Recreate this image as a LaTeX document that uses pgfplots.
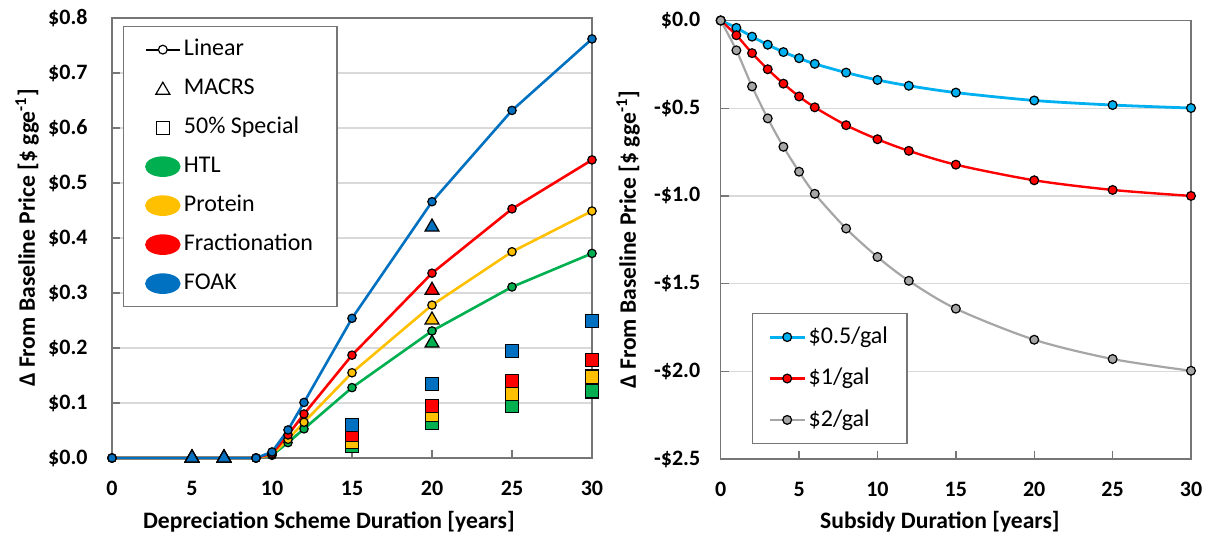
\documentclass[border=0pt]{standalone}
\usepackage{pgfplots}
\pgfplotsset{compat=1.18}
\usepackage{fontspec}
\setmainfont{Carlito}
\definecolor{foak}{HTML}{0070C0}
\definecolor{frac}{HTML}{FF0000}
\definecolor{prot}{HTML}{FFC000}
\definecolor{htl}{HTML}{00B050}
\definecolor{cyanS}{HTML}{00B0F0}
\definecolor{grayS}{HTML}{A6A6A6}
\definecolor{axisgray}{HTML}{767676}
\definecolor{gridgray}{HTML}{D9D9D9}
\pgfplotsset{
  common/.style={
    scale only axis, anchor=south west, clip=false,
    xmin=0, xmax=30, xtick={0,5,10,15,20,25,30},
    xtick pos=bottom, ytick pos=left, tick align=inside,
    major tick length=4pt,
    axis line style={draw=axisgray, line width=0.7pt},
    every tick/.style={draw=axisgray, line width=0.7pt},
    ymajorgrids=true,
    major grid style={draw=gridgray, line width=0.6pt},
    /pgf/number format/assume math mode=true,
    ticklabel style={font=\fontsize{11}{13}\selectfont\bfseries},
    xticklabel style={yshift=-8.2pt},
    label style={font=\fontsize{11.8}{14}\selectfont\bfseries},
  },
  linser/.style={color=#1, line width=1.3pt, mark=*, mark size=2.1pt,
    mark options={fill=#1, draw=black, line width=0.6pt}},
  macrs/.style={only marks, mark=triangle*, mark size=4pt,
    mark options={fill=#1, draw=black, line width=0.6pt}},
  special/.style={only marks, mark=square*, mark size=3.3pt,
    mark options={fill=#1, draw=black, line width=0.6pt}},
}
\begin{document}
\begin{tikzpicture}
\path[use as bounding box] (0pt,0pt) rectangle (605.5pt,-270.5pt);
% ---------------- Left panel ----------------
\begin{axis}[common,
  at={(56pt,-229pt)}, width=240pt, height=220pt,
  ymin=0, ymax=0.8, ytick={0,0.1,0.2,0.3,0.4,0.5,0.6,0.7,0.8},
  yticklabels={\$0.0,\$0.1,\$0.2,\$0.3,\$0.4,\$0.5,\$0.6,\$0.7,\$0.8},
  yticklabel style={xshift=-8.7pt},
  xlabel={Depreciation Scheme Duration [years]},
  xlabel style={at={(axis description cs:0.452,-0.1455)}, anchor=center},
  ylabel={Δ From Baseline Price [\$ gge\textsuperscript{-1}]},
  ylabel style={at={(axis description cs:-0.177,0.5)}, anchor=center},
  legend cell align=left,
  legend style={at={(axis description cs:0.023,0.982)}, anchor=north west,
    draw=axisgray, line width=0.7pt, fill=white,
    font=\fontsize{12}{14}\selectfont,
    row sep=5.5pt, inner xsep=10.5pt, inner ysep=4.5pt,
    nodes={inner sep=1.5pt, text height=8.5pt, text depth=2.5pt}},
]
% Linear
\addplot[linser=htl, forget plot] coordinates {(0,0) (9,0) (10,0.005) (11,0.028) (12,0.053) (15,0.128) (20,0.231) (25,0.311) (30,0.372)};
\addplot[linser=prot, forget plot] coordinates {(0,0) (9,0) (10,0.006) (11,0.034) (12,0.065) (15,0.155) (20,0.278) (25,0.375) (30,0.449)};
\addplot[linser=frac, forget plot] coordinates {(0,0) (9,0) (10,0.008) (11,0.042) (12,0.080) (15,0.187) (20,0.336) (25,0.453) (30,0.542)};
\addplot[linser=foak, forget plot] coordinates {(0,0) (9,0) (10,0.011) (11,0.051) (12,0.101) (15,0.254) (20,0.466) (25,0.632) (30,0.762)};
% MACRS
\addplot[macrs=htl, forget plot] coordinates {(5,0) (7,0) (20,0.209)};
\addplot[macrs=prot, forget plot] coordinates {(5,0) (7,0) (20,0.251)};
\addplot[macrs=frac, forget plot] coordinates {(5,0) (7,0) (20,0.305)};
\addplot[macrs=foak, forget plot] coordinates {(5,0) (7,0) (20,0.420)};
% 50% Special
\addplot[special=htl, forget plot] coordinates {(15,0.022) (20,0.064) (25,0.095) (30,0.121)};
\addplot[special=prot, forget plot] coordinates {(15,0.030) (20,0.078) (25,0.117) (30,0.148)};
\addplot[special=frac, forget plot] coordinates {(15,0.042) (20,0.095) (25,0.140) (30,0.178)};
\addplot[special=foak, forget plot] coordinates {(15,0.060) (20,0.135) (25,0.195) (30,0.249)};
% legend
\addlegendimage{legend image code/.code={
  \draw[draw=black, line width=1.1pt] (0pt,0pt) -- (17pt,0pt);
  \draw[draw=black, fill=white, line width=0.6pt] (8.5pt,0pt) circle (2.2pt);}}
\addlegendentry{Linear}
\addlegendimage{legend image code/.code={
  \path (0pt,0pt) (17pt,0pt);
  \filldraw[draw=black, fill=white, line width=0.6pt] (5pt,-2.8pt) -- (12pt,-2.8pt) -- (8.5pt,3.2pt) -- cycle;}}
\addlegendentry{MACRS}
\addlegendimage{legend image code/.code={
  \path (0pt,0pt) (17pt,0pt);
  \filldraw[draw=black, fill=white, line width=0.6pt] (5.25pt,-3.25pt) rectangle (11.75pt,3.25pt);}}
\addlegendentry{50\% Special}
\addlegendimage{legend image code/.code={\fill[htl] (8.5pt,0pt) ellipse (8.5pt and 4.8pt);}}
\addlegendentry{HTL}
\addlegendimage{legend image code/.code={\fill[prot] (8.5pt,0pt) ellipse (8.5pt and 4.8pt);}}
\addlegendentry{Protein}
\addlegendimage{legend image code/.code={\fill[frac] (8.5pt,0pt) ellipse (8.5pt and 4.8pt);}}
\addlegendentry{Fractionation}
\addlegendimage{legend image code/.code={\fill[foak] (8.5pt,0pt) ellipse (8.5pt and 4.8pt);}}
\addlegendentry{FOAK}
\end{axis}
% ---------------- Right panel ----------------
\begin{axis}[common,
  at={(360.35pt,-229.5pt)}, width=235.15pt, height=219.25pt,
  ymin=-2.5, ymax=0, ytick={-2.5,-2,-1.5,-1,-0.5,0},
  yticklabels={-\$2.5,-\$2.0,-\$1.5,-\$1.0,-\$0.5,\$0.0},
  yticklabel style={xshift=-6.7pt},
  xlabel={Subsidy Duration [years]},
  xlabel style={at={(axis description cs:0.466,-0.144)}, anchor=center},
  ylabel={Δ From Baseline Price [\$ gge\textsuperscript{-1}]},
  ylabel style={at={(axis description cs:-0.197,0.5)}, anchor=center},
  legend cell align=left,
  legend style={at={(axis description cs:0.0666,0.3336)}, anchor=north west,
    draw=axisgray, line width=0.7pt, fill=white,
    font=\fontsize{12}{14}\selectfont,
    row sep=6pt, inner xsep=8pt, inner ysep=4.5pt,
    nodes={inner sep=1.5pt, text height=9pt, text depth=2.7pt}},
]
\addplot[color=cyanS, line width=1.4pt, smooth, mark=*, mark size=2.2pt,
  mark options={fill=cyanS, draw=black, line width=0.6pt}] coordinates {
  (0,0) (1,-0.042) (2,-0.092) (3,-0.138) (4,-0.180) (5,-0.215) (6,-0.247)
  (8,-0.297) (10,-0.339) (12,-0.372) (15,-0.411) (20,-0.456) (25,-0.482) (30,-0.499)};
\addlegendentry{\$0.5/gal}
\addplot[color=frac, line width=1.2pt, smooth, mark=*, mark size=2.2pt,
  mark options={fill=frac, draw=black, line width=0.6pt}] coordinates {
  (0,0) (1,-0.084) (2,-0.186) (3,-0.278) (4,-0.360) (5,-0.433) (6,-0.495)
  (8,-0.597) (10,-0.677) (12,-0.743) (15,-0.822) (20,-0.911) (25,-0.966) (30,-1.000)};
\addlegendentry{\$1/gal}
\addplot[color=grayS, line width=1.1pt, smooth, mark=*, mark size=2.2pt,
  mark options={fill=grayS, draw=black, line width=0.6pt}] coordinates {
  (0,0) (1,-0.170) (2,-0.376) (3,-0.558) (4,-0.720) (5,-0.862) (6,-0.988)
  (8,-1.186) (10,-1.348) (12,-1.484) (15,-1.643) (20,-1.820) (25,-1.930) (30,-1.997)};
\addlegendentry{\$2/gal}
\end{axis}
\end{tikzpicture}
\end{document}
